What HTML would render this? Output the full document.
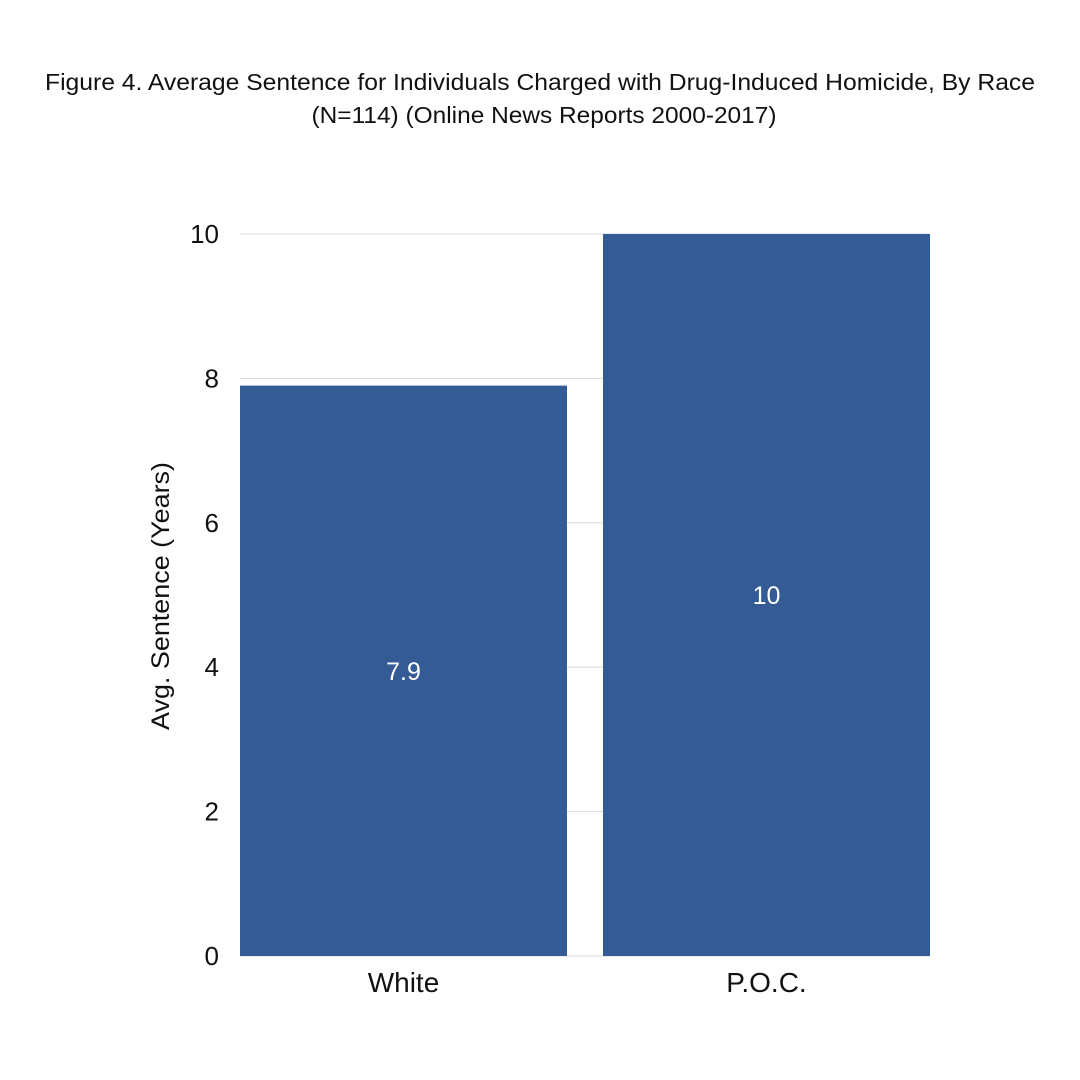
<!DOCTYPE html>
<html><head><meta charset="utf-8"><style>
body{margin:0;background:#fff;}
svg{display:block;font-family:"Liberation Sans",sans-serif;}
</style></head><body>
<svg id="chart" width="1080" height="1080">
<text x="540" y="90" text-anchor="middle" font-size="23" fill="#111" textLength="990" lengthAdjust="spacingAndGlyphs">Figure 4. Average Sentence for Individuals Charged with Drug-Induced Homicide, By Race</text>
<text x="544" y="123" text-anchor="middle" font-size="23" fill="#111" textLength="465" lengthAdjust="spacingAndGlyphs">(N=114) (Online News Reports 2000-2017)</text>
<text transform="translate(169,596) rotate(-90)" text-anchor="middle" font-size="25" fill="#111" textLength="268" lengthAdjust="spacingAndGlyphs">Avg. Sentence (Years)</text>
<g id="grid"></g><g id="bars"></g><g id="labels"></g>
</svg>
<script>
const categories=["White","P.O.C."];
const values=[7.9,10];
const ticks=[0,2,4,6,8,10];
const ns="http://www.w3.org/2000/svg";
const y0=956,y1=234,xL=222,xR=948;
function y(v){return y0-(v/10)*(y0-y1);}
const band=(xR-xL)/categories.length;
function bx(i){return xL+band*i+18;}
const bw=band-36;
const grid=document.getElementById('grid'),bars=document.getElementById('bars'),labels=document.getElementById('labels');
function mk(tag,attrs,parent,text){const e=document.createElementNS(ns,tag);for(const k in attrs)e.setAttribute(k,attrs[k]);if(text!==undefined)e.textContent=text;parent.appendChild(e);return e;}
ticks.forEach(t=>{
 const l=mk('line',{x1:240,x2:930,y1:y(t),y2:y(t),stroke:'#d9d9d9','stroke-width':1},grid);
 
 
 const tx=mk('text',{x:219,y:y(t)+9,'text-anchor':'end','font-size':26,fill:'#111'},grid,String(t));
 
 
});
categories.forEach((c,i)=>{
 const r=mk('rect',{x:bx(i),y:y(values[i]),width:bw,height:y0-y(values[i]),fill:'#355b97'},bars);
 
 
 const v=mk('text',{x:bx(i)+bw/2,y:(y(values[i])+y0)/2+9,'text-anchor':'middle','font-size':25,fill:'#fff'},labels,String(values[i]));
 
 
 const cl=mk('text',{x:bx(i)+bw/2,y:992,'text-anchor':'middle','font-size':28,fill:'#111'},labels,c);
 
 
});
</script>
</body></html>
